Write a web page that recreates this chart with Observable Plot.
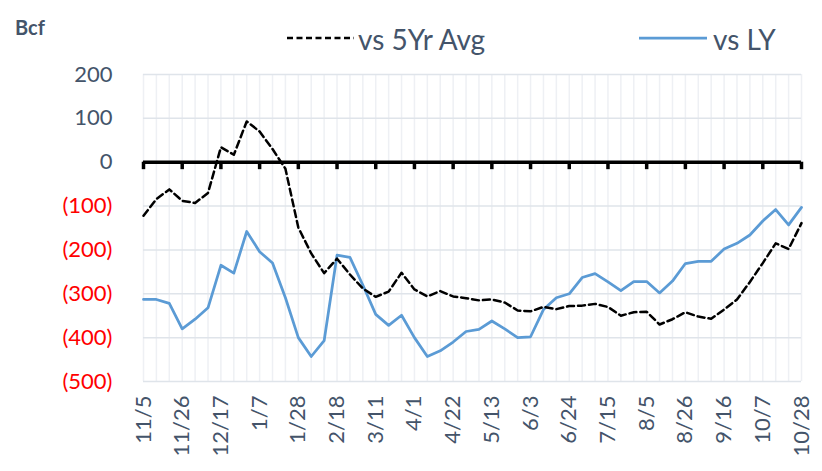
<!DOCTYPE html>
<html>
<head>
<meta charset="utf-8">
<script src="https://cdn.jsdelivr.net/npm/d3@7"></script>
<script src="https://cdn.jsdelivr.net/npm/@observablehq/plot@0.6"></script>
<style>
  html, body { margin: 0; padding: 0; background: #fff; }
  #wrap { position: relative; width: 822px; height: 471px; font-family: Lato, sans-serif; }
  #legend { position: absolute; left: 0; top: 0; width: 822px; height: 60px; pointer-events: none; }
</style>
</head>
<body>
<div id="wrap"></div>
<script>
// Week tick labels (every third week)
const tickLabels = ["11/5","11/26","12/17","1/7","1/28","2/18","3/11","4/1","4/22","5/13","6/3","6/24","7/15","8/5","8/26","9/16","10/7","10/28"];
// Storage deficit vs 5-year average (Bcf), weekly
const vs5Yr = [-122,-84,-62,-88,-93,-70,34,17,93,70,30,-15,
  -149,-208,-253,-220,-256,-288,
  -307,-295,-252,-290,-306,-294,-306,-310,-315,-313,-320,-338,-340,-330,-335,-328,-327,-323,
  -330,-350,-342,-341,-370,-358,-342,-352,-357,-336,-313,-273,-230,-185,-198,-139];
// Storage deficit vs last year (Bcf), weekly
const vsLY = [-313,-313,-322,-380,-358,-332,-235,-253,-158,-204,-230,-309,
  -400,-443,-407,-212,-217,-280,
  -347,-372,-349,-400,-443,-430,-410,-386,-381,-362,-380,-400,-398,-336,-309,-300,-263,-254,
  -273,-293,-272,-272,-298,-271,-231,-226,-226,-198,-185,-166,-134,-108,-143,-103];
const yPos = [0, 100, 200];
const yNeg = [-100, -200, -300, -400, -500];

const weeks = d3.range(vs5Yr.length);
const tickWeeks = tickLabels.map((_, i) => i * 3);
const avgData = weeks.map(i => ({i, v: vs5Yr[i]}));
const lyData = weeks.map(i => ({i, v: vsLY[i]}));

const textColor = "#44546A";

const chart = Plot.plot({
  width: 822,
  height: 471,
  marginTop: 74,
  marginBottom: 90,
  marginLeft: 143,
  marginRight: 21,
  style: {fontFamily: "Lato, sans-serif", background: "#fff"},
  x: {domain: [0, weeks.length - 1]},
  y: {domain: [-500, 200]},
  marks: [
    Plot.ruleX(weeks, {x: d => d, stroke: "#eef0f4", strokeWidth: 1.5}),
    Plot.ruleY([...yNeg, 100, 200], {y: d => d, stroke: "#dfe4ea", strokeWidth: 1.5}),
    Plot.axisY(yPos, {tickSize: 0, tickPadding: 31, fontSize: 22, fill: textColor, label: null}),
    Plot.axisY(yNeg, {tickSize: 0, tickPadding: 31, fontSize: 22, fill: "#FF0000", label: null, tickFormat: d => `(${-d})`}),
    Plot.axisX(tickWeeks, {tickSize: 0, tickPadding: 14, tickRotate: -90, fontSize: 22, fill: textColor, label: null, tickFormat: d => tickLabels[d / 3]}),
    Plot.ruleY([0], {stroke: "#000", strokeWidth: 3.5}),
    Plot.ruleX(tickWeeks, {x: d => d, y1: 0, y2: -17, stroke: "#000", strokeWidth: 3.5}),
    Plot.line(lyData, {x: "i", y: "v", stroke: "#5B9BD5", strokeWidth: 2.75}),
    Plot.line(avgData, {x: "i", y: "v", stroke: "#000", strokeWidth: 2.5, strokeDasharray: "7,4"})
  ]
});

const wrap = document.getElementById("wrap");
wrap.appendChild(chart);

const ns = "http://www.w3.org/2000/svg";
const leg = document.createElementNS(ns, "svg");
leg.setAttribute("id", "legend");
leg.setAttribute("width", 822);
leg.setAttribute("height", 60);
leg.innerHTML = `
  <text x="15" y="35" font-family="Lato, sans-serif" font-weight="bold" font-size="20" fill="${textColor}">Bcf</text>
  <line x1="287" x2="354" y1="38" y2="38" stroke="#000" stroke-width="2.5" stroke-dasharray="6,3.5"/>
  <text x="358" y="50" font-family="Lato, sans-serif" font-size="28" fill="${textColor}">vs 5Yr Avg</text>
  <line x1="639" x2="707" y1="38" y2="38" stroke="#5B9BD5" stroke-width="2.75"/>
  <text x="713" y="50" font-family="Lato, sans-serif" font-size="28" fill="${textColor}">vs LY</text>
`;
wrap.appendChild(leg);
</script>
</body>
</html>
